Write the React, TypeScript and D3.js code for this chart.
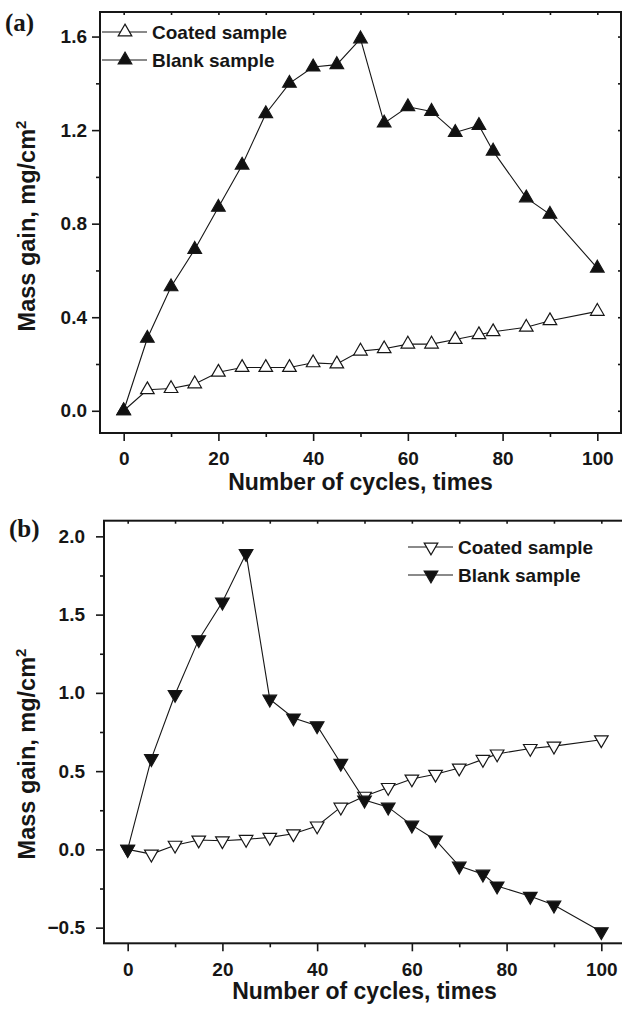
import * as d3 from 'd3';
import { useEffect, useRef } from 'react';

// cycles at which the samples were weighed
const cycles = [0, 5, 10, 15, 20, 25, 30, 35, 40, 45, 50, 55, 60, 65, 70, 75, 78, 85, 90, 100];

// (a) mass gain, mg/cm2
const coatedA = [0, 0.09, 0.095, 0.115, 0.165, 0.185, 0.185, 0.185, 0.205, 0.2, 0.255, 0.265, 0.285, 0.285, 0.305, 0.325, 0.338, 0.357, 0.385, 0.425];
const blankA = [0, 0.31, 0.53, 0.69, 0.87, 1.05, 1.27, 1.4, 1.47, 1.48, 1.59, 1.23, 1.3, 1.28, 1.19, 1.22, 1.11, 0.91, 0.84, 0.61];

// (b) mass gain, mg/cm2
const coatedB = [0, -0.03, 0.027, 0.06, 0.055, 0.064, 0.077, 0.1, 0.15, 0.27, 0.34, 0.396, 0.45, 0.48, 0.52, 0.575, 0.61, 0.645, 0.66, 0.7];
const blankB = [0, 0.58, 0.99, 1.34, 1.58, 1.89, 0.96, 0.84, 0.79, 0.55, 0.315, 0.27, 0.155, 0.06, -0.107, -0.158, -0.234, -0.3, -0.356, -0.526];

const xTicks = [0, 20, 40, 60, 80, 100];
const xMinor = [10, 30, 50, 70, 90];
const yTicksA = [0, 0.4, 0.8, 1.2, 1.6];
const yMinorA = [0.2, 0.6, 1.0, 1.4];
const yTicksB = [-0.5, 0, 0.5, 1.0, 1.5, 2.0];
const yMinorB = [-0.25, 0.25, 0.75, 1.25, 1.75];

const seriesNames = ['Coated sample', 'Blank sample'];

const FONT = '"Liberation Sans", Arial, Helvetica, sans-serif';
const INK = '#161616';

export default function App() {
  const ref = useRef<SVGSVGElement>(null);

  useEffect(() => {
    const svg = d3.select(ref.current);
    svg.selectAll('*').remove();

    const panels = [
      {
        tag: '(a)', tagX: 5, tagY: 31,
        left: 100, right: 621, top: 12, bottom: 433,
        yDomain: [-0.095, 1.705], yTicks: yTicksA, yMinor: yMinorA, yPad: 5,
        coated: coatedA, blank: blankA, down: false,
        legX: 102, legY: 32,
        xLabelY: 490, yLabelCy: 226,
      },
      {
        tag: '(b)', tagX: 9, tagY: 537,
        left: 104, right: 625, top: 520.7, bottom: 943.3,
        yDomain: [-0.6, 2.1], yTicks: yTicksB, yMinor: yMinorB, yPad: 11,
        coated: coatedB, blank: blankB, down: true,
        legX: 408, legY: 547,
        xLabelY: 999, yLabelCy: 754,
      },
    ];

    const tri = d3.symbol().type(d3.symbolTriangle).size(80)();

    panels.forEach(p => {
      const x = d3.scaleLinear().domain([-5, 105]).range([p.left, p.right]);
      const y = d3.scaleLinear().domain(p.yDomain).range([p.bottom, p.top]);
      const g = svg.append('g');

      // panel tag
      g.append('text')
        .attr('x', p.tagX).attr('y', p.tagY)
        .style('font-family', '"Liberation Serif", "Times New Roman", serif')
        .style('font-weight', 'bold').style('font-size', '25px')
        .attr('fill', INK)
        .text(p.tag);

      const styleAxis = sel => {
        sel.select('.domain').remove();
        sel.selectAll('line').attr('stroke', INK).attr('stroke-width', 1.6);
        sel.selectAll('text')
          .style('font-family', FONT).style('font-weight', 'bold')
          .style('font-size', '19px').attr('fill', INK);
      };

      // bottom + left, major and minor ticks (outward)
      g.append('g').attr('transform', `translate(0,${p.bottom})`)
        .call(d3.axisBottom(x).tickValues(xTicks).tickSize(8).tickPadding(11).tickFormat(d3.format('d')))
        .call(styleAxis);
      g.append('g').attr('transform', `translate(0,${p.bottom})`)
        .call(d3.axisBottom(x).tickValues(xMinor).tickSize(4).tickFormat(() => ''))
        .call(styleAxis);
      g.append('g').attr('transform', `translate(${p.left},0)`)
        .call(d3.axisLeft(y).tickValues(p.yTicks).tickSize(8).tickPadding(p.yPad).tickFormat(d3.format('.1f')))
        .call(styleAxis);
      g.append('g').attr('transform', `translate(${p.left},0)`)
        .call(d3.axisLeft(y).tickValues(p.yMinor).tickSize(4).tickFormat(() => ''))
        .call(styleAxis);

      // top + right, small inward ticks
      g.append('g').attr('transform', `translate(0,${p.top})`)
        .call(d3.axisTop(x).tickValues([...xTicks, ...xMinor]).tickSize(-3).tickFormat(() => ''))
        .call(styleAxis);
      g.append('g').attr('transform', `translate(${p.right},0)`)
        .call(d3.axisRight(y).tickValues([...p.yTicks, ...p.yMinor]).tickSize(-3).tickFormat(() => ''))
        .call(styleAxis);

      // frame
      g.append('rect')
        .attr('x', p.left).attr('y', p.top)
        .attr('width', p.right - p.left).attr('height', p.bottom - p.top)
        .attr('fill', 'none').attr('stroke', INK).attr('stroke-width', 2);

      // axis titles
      g.append('text')
        .attr('x', (p.left + p.right) / 2).attr('y', p.xLabelY)
        .attr('text-anchor', 'middle')
        .style('font-family', FONT).style('font-weight', 'bold').style('font-size', '23px')
        .attr('fill', INK)
        .text('Number of cycles, times');

      const yl = g.append('text')
        .attr('transform', `translate(35,${p.yLabelCy}) rotate(-90)`)
        .attr('text-anchor', 'middle')
        .style('font-family', FONT).style('font-weight', 'bold').style('font-size', '23.5px')
        .attr('fill', INK);
      yl.append('tspan').text('Mass gain, mg/cm');
      yl.append('tspan').attr('dy', -9).style('font-size', '15px').text('2');

      const line = d3.line<number>().x((_, i) => x(cycles[i])).y(d => y(d));
      const rot = p.down ? ' rotate(180)' : '';

      [p.coated, p.blank].forEach((vals, k) => {
        const filled = k === 1;
        g.append('path')
          .attr('d', line(vals))
          .attr('fill', 'none').attr('stroke', INK).attr('stroke-width', 1.1);
        g.append('g').selectAll('path')
          .data(vals)
          .enter()
          .append('path')
          .attr('d', tri)
          .attr('transform', (d, i) => `translate(${x(cycles[i])},${y(d)})${rot}`)
          .attr('fill', filled ? '#111' : '#fff')
          .attr('stroke', INK).attr('stroke-width', 1.2);

        // legend row
        const ly = p.legY + k * 28;
        g.append('line')
          .attr('x1', p.legX).attr('x2', p.legX + 45)
          .attr('y1', ly).attr('y2', ly)
          .attr('stroke', INK).attr('stroke-width', 1.1);
        g.append('path')
          .attr('d', tri)
          .attr('transform', `translate(${p.legX + 23},${ly})${rot}`)
          .attr('fill', filled ? '#111' : '#fff')
          .attr('stroke', INK).attr('stroke-width', 1.2);
        g.append('text')
          .attr('x', p.legX + 50).attr('y', ly).attr('dy', '0.35em')
          .style('font-family', FONT).style('font-weight', 'bold').style('font-size', '19px')
          .attr('fill', INK)
          .text(seriesNames[k]);
      });
    });

    return () => { svg.selectAll('*').remove(); };
  }, []);

  return (
    <svg ref={ref} width={622} height={1012}
      style={{ position: 'absolute', left: 0, top: 0, background: '#fff' }} />
  );
}
